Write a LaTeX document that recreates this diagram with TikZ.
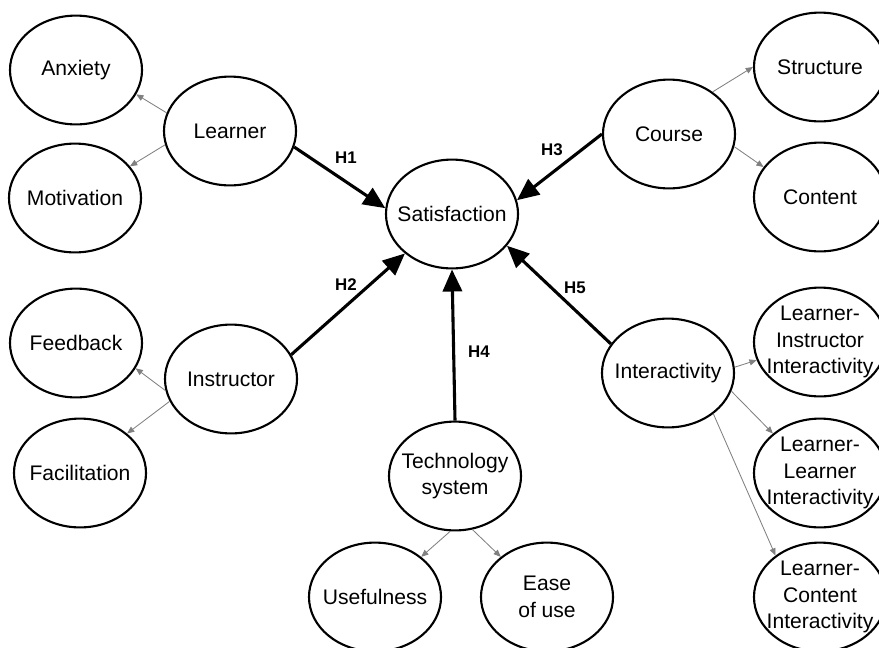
\documentclass[tikz,border=0pt]{standalone}
\usepackage{fontspec}
\setmainfont{Liberation Sans}
\usetikzlibrary{shapes.geometric, arrows.meta}
\tikzstyle{construct} = [ellipse, draw=black, line width=1.5pt, minimum width=3.3cm, minimum height=2.72cm, inner sep=-3mm, align=center, font=\fontsize{15}{18.8}\selectfont]
\tikzstyle{hyparrow} = [line width=2.2pt, -{Triangle[length=5.5mm, width=4.8mm]}]
\tikzstyle{subarrow} = [draw=gray, line width=0.6pt, -{Triangle[length=1.8mm, width=1.5mm]}]
\tikzstyle{hlabel} = [font=\fontsize{12}{14}\bfseries\selectfont]

\begin{document}
\begin{tikzpicture}[x=0.025cm, y=-0.025cm]
		\clip (0,0) rectangle (879,647);
		%定义椭圆节点
		\node (sat) [construct] at (452,214) {Satisfaction};
		\node (learner) [construct] at (230,131) {Learner};
		\node (anxiety) [construct] at (76,70) {Anxiety};
		\node (motiv) [construct] at (75,198) {Motivation};
		\node (instr) [construct] at (231,379) {Instructor};
		\node (feedback) [construct] at (76,343) {Feedback};
		\node (facil) [construct] at (80,473) {Facilitation};
		\node (course) [construct] at (669,134) {Course};
		\node (struct) [construct] at (820,67) {Structure};
		\node (content) [construct] at (820,197) {Content};
		\node (tech) [construct] at (455,476) {Technology\\system};
		\node (useful) [construct] at (375,597) {Usefulness};
		\node (ease) [construct] at (547,597) {Ease\\of use};
		\node (inter) [construct] at (668,373) {Interactivity};
		\node (li) [construct] at (820,342) {Learner-\\Instructor\\Interactivity};
		\node (ll) [construct] at (820,473) {Learner-\\Learner\\Interactivity};
		\node (lc) [construct] at (820,597) {Learner-\\Content\\Interactivity};
		
		%假设标签
		\node (h1) [hlabel] at (346,158) {H1};
		\node (h2) [hlabel] at (346,285) {H2};
		\node (h3) [hlabel] at (552,150) {H3};
		\node (h4) [hlabel] at (479,352) {H4};
		\node (h5) [hlabel] at (575,288) {H5};
		
		%连接假设路径
		\draw [hyparrow](learner.-14) -- (sat.175);
		\draw [hyparrow](instr.22) -- (sat.220);
		\draw [hyparrow](course.180) -- (sat.12);
		\draw [hyparrow](tech.north) -- (sat.south);
		\draw [hyparrow](inter.153) -- (sat.-30);
		
		%连接子维度
		\draw [subarrow](learner.164) -- (anxiety.-22);
		\draw [subarrow](learner.192) -- (motiv.30);
		\draw [subarrow](instr.190) -- (feedback.-23);
		\draw [subarrow](instr.200) -- (facil.40);
		\draw [subarrow](course.44) -- (struct.180);
		\draw [subarrow](course.-11) -- (content.152);
		\draw [subarrow](tech.-95) -- (useful.41);
		\draw [subarrow](tech.-72) -- (ease.139);
		\draw [subarrow](inter.5) -- (li.196);
		\draw [subarrow](inter.-16) -- (ll.140);
		\draw [subarrow](inter.-42) -- (lc.137);
	\end{tikzpicture}
\end{document}
